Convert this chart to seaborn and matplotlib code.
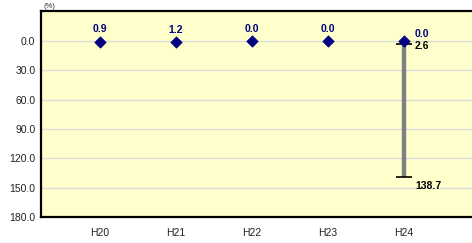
import matplotlib
matplotlib.use("Agg")
import matplotlib.pyplot as plt
import seaborn as sns
import pandas as pd
import numpy as np

categories = ["H20", "H21", "H22", "H23", "H24"]
values = [0.9, 1.2, 0.0, 0.0, 0.0]
err_low = [None, None, None, None, 2.6]
err_high = [None, None, None, None, 138.7]
yticks = [0, 30, 60, 90, 120, 150, 180]

sns.set_theme(style="white")
plt.rcParams['font.family'] = ['Liberation Sans', 'DejaVu Sans']

fig = plt.figure(figsize=(4.72, 2.43), dpi=100)
ax = fig.add_axes([41/472, 1-217/243, 1-41/472 + 0.01, (217-11)/243])
ax.set_facecolor("#FFFFCC")

df = pd.DataFrame({"cat": categories, "x": np.arange(len(categories)), "val": values})

# error bar
for i, (lo, hi) in enumerate(zip(err_low, err_high)):
    if lo is None:
        continue
    ax.vlines(i, lo, hi, color="#808080", lw=3.2, zorder=2)
    ax.hlines([lo, hi], i - 0.1, i + 0.1, color="black", lw=1.2, zorder=3)
    ax.annotate(f"{lo:.1f}", (i, lo), xytext=(8, -2), textcoords="offset points",
                ha="left", va="center", fontsize=7.5, fontweight="bold", color="black")
    ax.annotate(f"{hi:.1f}", (i, hi), xytext=(8, -7), textcoords="offset points",
                ha="left", va="center", fontsize=7.5, fontweight="bold", color="black")

sns.scatterplot(data=df, x="x", y="val", marker="D", s=34, color="#000080",
                edgecolor="#000080", ax=ax, zorder=4, legend=False)

for i, v in enumerate(values):
    if err_low[i] is not None:
        ax.annotate(f"{v:.1f}", (i, v), xytext=(8, 5), textcoords="offset points",
                    ha="left", va="center", fontsize=7.5, fontweight="bold", color="#000080")
    else:
        ax.annotate(f"{v:.1f}", (i, v), xytext=(0, 9), textcoords="offset points",
                    ha="center", va="center", fontsize=7.5, fontweight="bold", color="#000080")

ppu = 76.0
ax.set_xlim(-59/ppu, (472 + 4.72 - 100)/ppu)
ax.set_ylim(180, -30.7)
ax.set_yticks(yticks)
ax.set_yticklabels([f"{t:.1f}" for t in yticks], fontsize=7.5)
ax.set_xticks(range(len(categories)))
ax.set_xticklabels(categories, fontsize=7.5)
ax.tick_params(axis="both", length=0, pad=4, colors="#222222")
ax.tick_params(axis="x", pad=8)
ax.grid(axis="y", color="#DCDCDC", lw=1)
ax.set_axisbelow(True)
ax.set_xlabel("")
ax.set_ylabel("")
for s in ["left", "bottom", "top"]:
    ax.spines[s].set_color("black")
    ax.spines[s].set_linewidth(1.6)
ax.spines["right"].set_visible(False)

fig.text(43/472, 1-6/243, "(%)", fontsize=5.5, ha="left", va="center", color="#333333")

fig.savefig("out.png", dpi=100)
